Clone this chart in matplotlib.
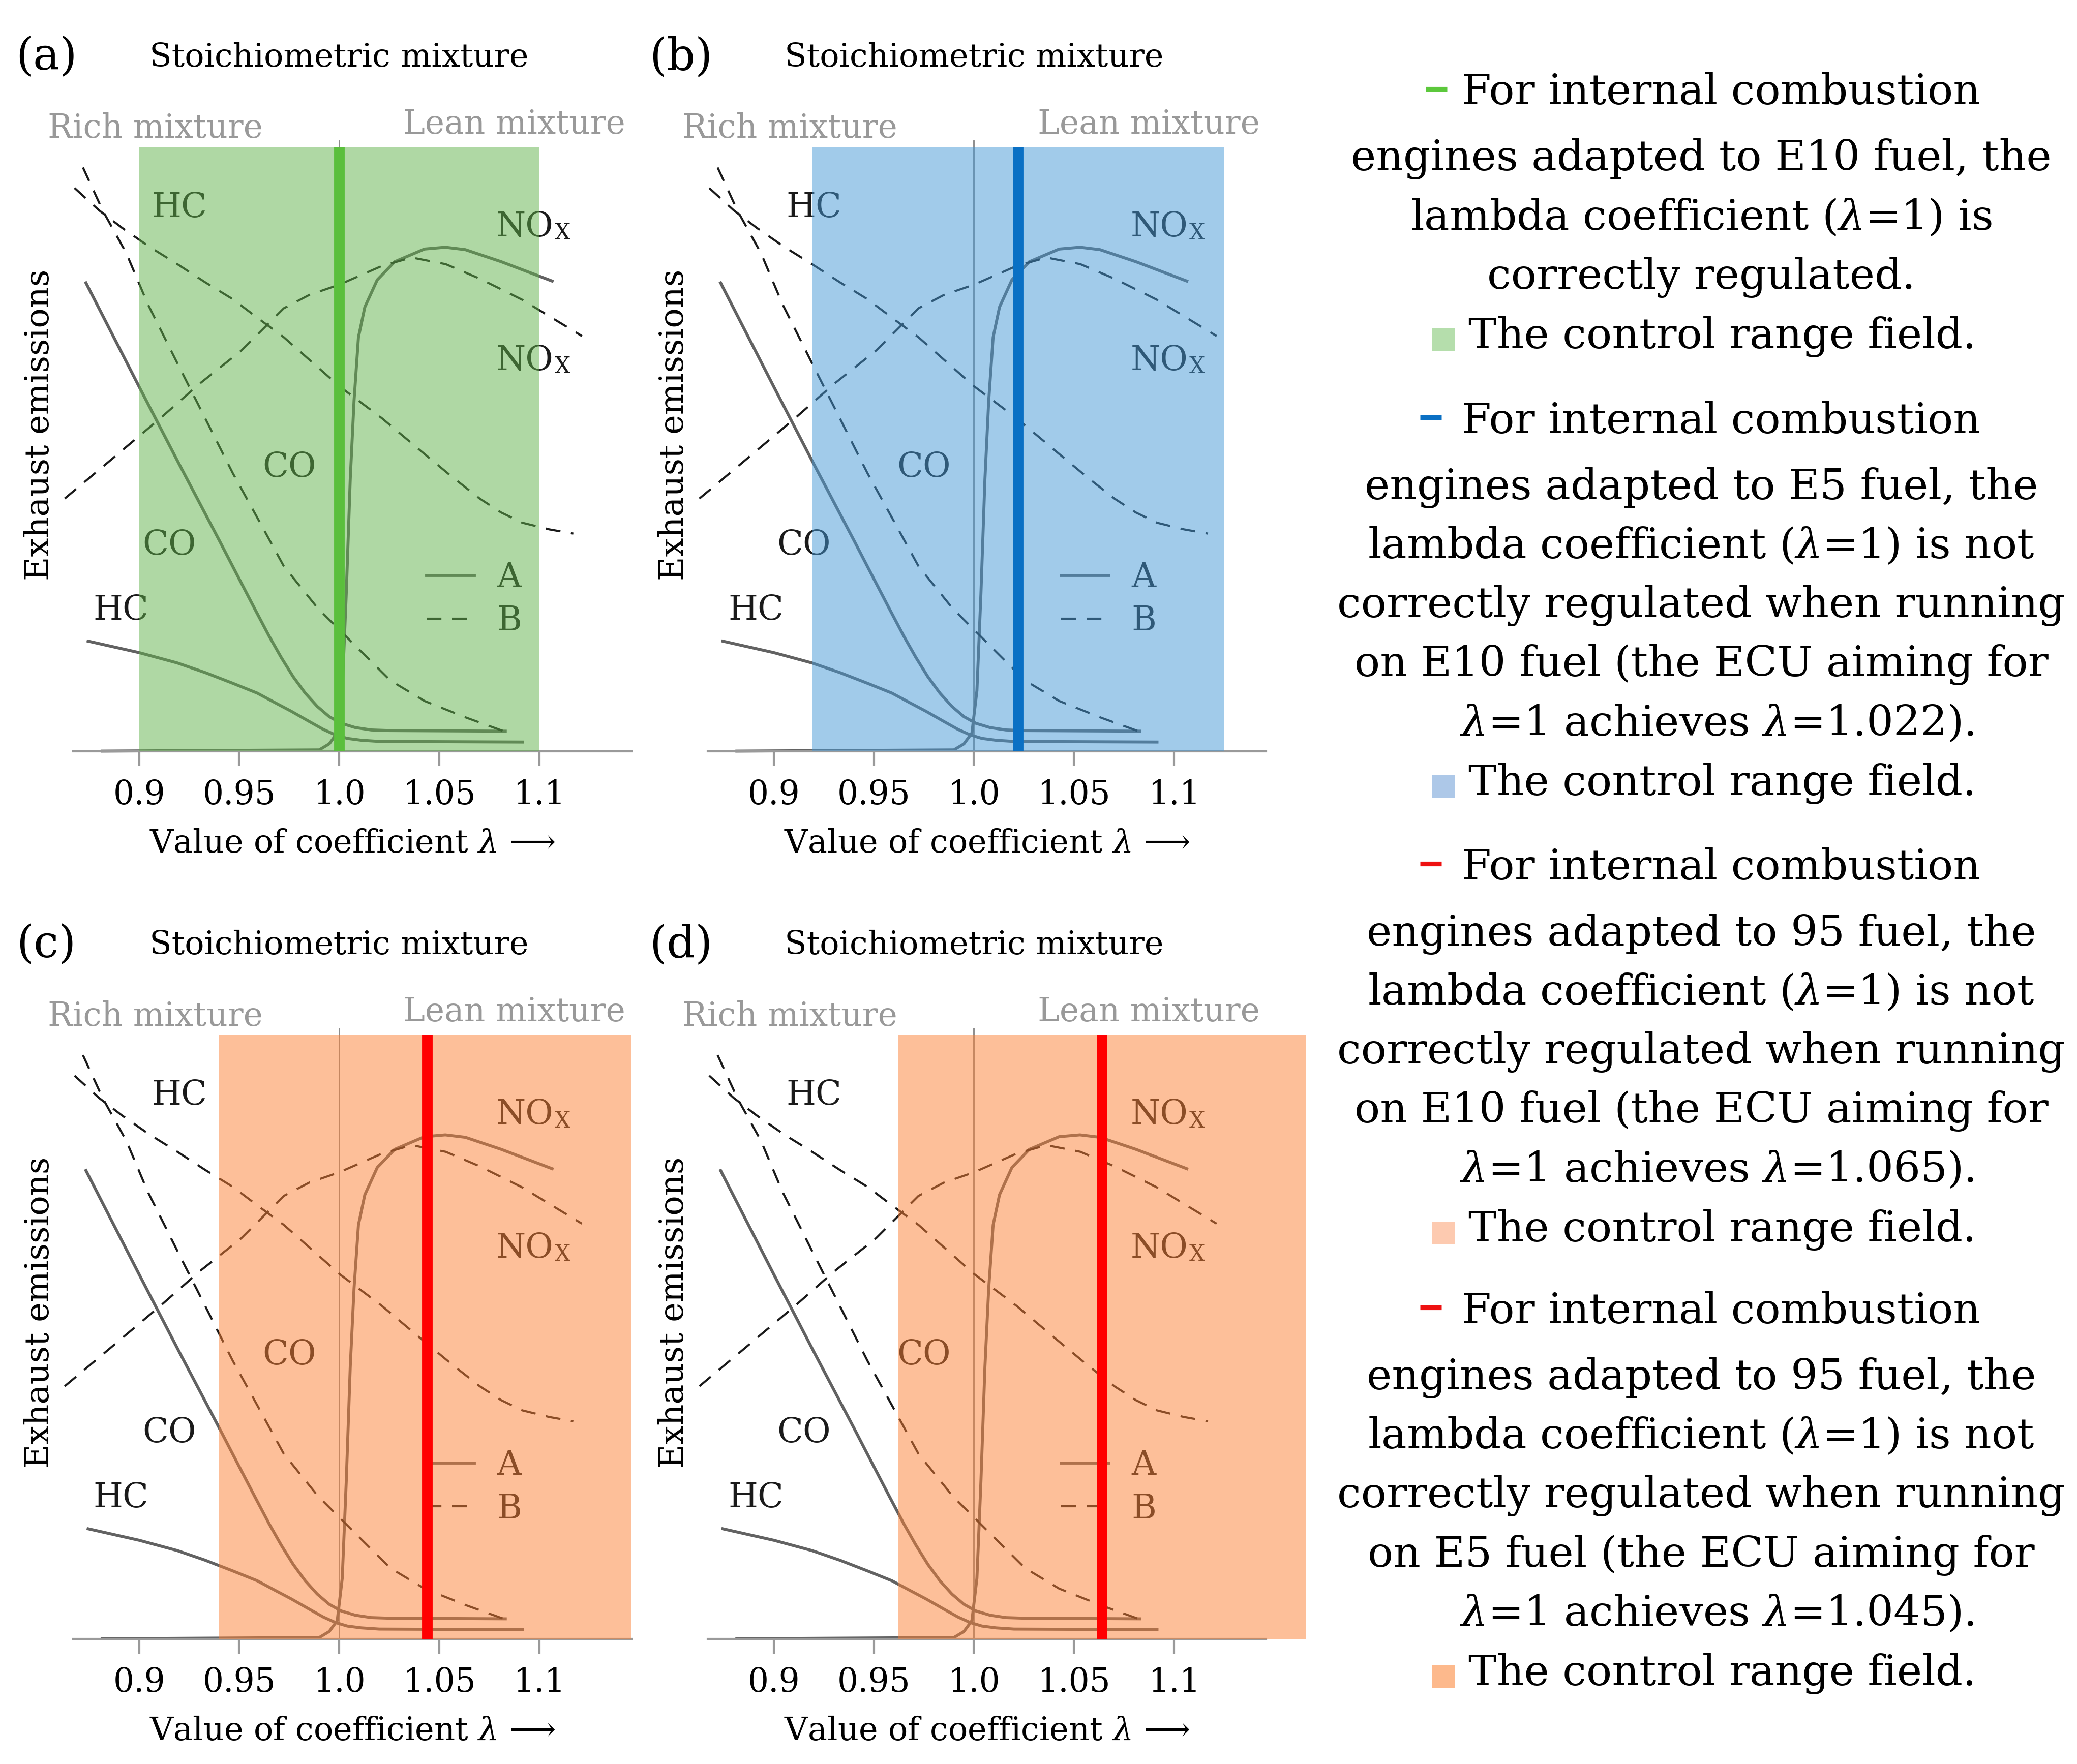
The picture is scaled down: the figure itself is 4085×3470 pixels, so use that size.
import matplotlib.pyplot as plt
from matplotlib.lines import Line2D
from matplotlib.patches import Rectangle

plt.rcParams['font.family'] = ['DejaVu Serif', 'DejaVu Sans']
plt.rcParams['mathtext.fontset'] = 'dejavuserif'

# ---- curve A (solid) ----
co_a_lam = [0.8734, 0.900, 0.920, 0.940, 0.950, 0.958, 0.965, 0.971, 0.977, 0.983, 0.989, 0.995, 1.001, 1.008,
            1.016, 1.025, 1.083]
co_a = [77.5, 60.3, 47.5, 34.9, 28.5, 23.4, 19.0, 15.5, 12.3, 9.6, 7.4, 5.7, 4.6, 3.9, 3.5, 3.4, 3.3]
hc_a_lam = [0.8745, 0.900, 0.919, 0.933, 0.947, 0.959, 0.968, 0.976, 0.985, 0.992, 0.998, 1.004, 1.011, 1.020, 1.0915]
hc_a = [18.2, 16.3, 14.6, 13.0, 11.2, 9.6, 8.0, 6.6, 4.9, 3.6, 2.7, 2.1, 1.8, 1.6, 1.5]
nox_a_lam = [0.8815, 0.990, 0.995, 0.999, 1.0015, 1.0035, 1.0055, 1.0074, 1.0096, 1.0128, 1.019, 1.0277,
             1.0426, 1.053, 1.063, 1.081, 1.1064]
nox_a = [0.0, 0.2, 1.2, 3.0, 10.0, 26.0, 45.0, 58.0, 68.5, 73.5, 78.0, 81.0, 83.1, 83.4, 83.0, 81.0, 77.8]

# ---- curve B (dashed) ----
co_b_lam = [0.8719, 0.8819, 0.8936, 0.9043, 0.9191, 0.9319, 0.9468, 0.9596, 0.9723, 0.9894, 1.0, 1.0106,
            1.0255, 1.0426, 1.0638, 1.083]
co_b = [96.6, 89.4, 82.4, 74.0, 64.2, 55.8, 46.0, 38.3, 30.6, 23.6, 20.1, 16.6, 11.7, 8.3, 5.5, 3.2]
hc_b_lam = [0.8677, 0.880, 0.8915, 0.905, 0.9191, 0.933, 0.9468, 0.960, 0.9723, 0.986, 1.0, 1.0213, 1.040,
            1.056, 1.0702, 1.0809, 1.0915, 1.105, 1.117]
hc_b = [93.2, 89.5, 86.6, 83.5, 80.6, 77.6, 74.8, 71.5, 68.5, 64.5, 60.4, 55.1, 49.9, 45.5, 41.8, 39.5, 37.8,
        36.7, 36.0]
nox_b_lam = [0.8628, 0.883, 0.9106, 0.9298, 0.9511, 0.9723, 0.985, 1.0, 1.0213, 1.0362, 1.0532, 1.0702,
             1.0915, 1.1213]
nox_b = [41.8, 47.4, 55.1, 60.7, 66.3, 73.3, 75.5, 77.2, 80.3, 81.7, 80.6, 78.2, 74.7, 68.7]

# ---- panels ----
panel_tags = ['(a)', '(b)', '(c)', '(d)']
lam_achieved = [1.0, 1.022, 1.044, 1.064]
range_lo = [0.900, 0.919, 0.940, 0.962]
range_hi = [1.100, 1.125, 1.146, 1.166]
range_colors = ['#61b24b', '#4599d7', '#fd8135', '#fd8135']
lam_colors = ['#5abf3c', '#0a70c4', '#ff0000', '#ff0000']

xticks = [0.9, 0.95, 1.0, 1.05, 1.1]
xtick_labels = ['0.9', '0.95', '1.0', '1.05', '1.1']

# ---- notes on the right ----
note_lines = [
    ['For internal combustion', 'engines adapted to E10 fuel, the',
     'lambda coefficient ($\\lambda$=1) is', 'correctly regulated.'],
    ['For internal combustion', 'engines adapted to E5 fuel, the',
     'lambda coefficient ($\\lambda$=1) is not', 'correctly regulated when running',
     'on E10 fuel (the ECU aiming for', '$\\lambda$=1 achieves $\\lambda$=1.022).'],
    ['For internal combustion', 'engines adapted to 95 fuel, the',
     'lambda coefficient ($\\lambda$=1) is not', 'correctly regulated when running',
     'on E10 fuel (the ECU aiming for', '$\\lambda$=1 achieves $\\lambda$=1.065).'],
    ['For internal combustion', 'engines adapted to 95 fuel, the',
     'lambda coefficient ($\\lambda$=1) is not', 'correctly regulated when running',
     'on E5 fuel (the ECU aiming for', '$\\lambda$=1 achieves $\\lambda$=1.045).'],
]
range_text = 'The control range field.'
note_dash_colors = ['#5cc83c', '#0a70c4', '#ee1111', '#ee1111']
note_square_colors = ['#b5deac', '#adc8e8', '#fdcab0', '#fdb98c']

W, H = 1568.0, 1331.5


def fx(x):
    return x / W


def fy(y):
    return 1 - y / H


fig = plt.figure(figsize=(4086 / 300, 3470 / 300), dpi=300)

lefts = [0.0352, 0.3407, 0.0352, 0.3407]
bottoms = [0.5742, 0.5742, 0.0710, 0.0710]
txt_col = '#1a1a1a'

for k in range(4):
    ax = fig.add_axes([lefts[k], bottoms[k], 0.2687, 0.3425])
    ax.set_xlim(0.867, 1.146)
    ax.set_ylim(0, 100)
    for s in ['left', 'right', 'top']:
        ax.spines[s].set_visible(False)
    ax.spines['bottom'].set_color('#9a9a9a')
    ax.spines['bottom'].set_linewidth(1.0)
    ax.set_yticks([])
    ax.set_xticks(xticks, xtick_labels)
    ax.tick_params(axis='x', colors='#9a9a9a', labelcolor='black', length=7, width=1.0,
                   labelsize=15.5, pad=6)
    ax.set_xlabel('Value of coefficient $\\lambda$ \u27f6', fontsize=15.3, labelpad=8)
    ax.patch.set_visible(False)

    ax.plot([1.0, 1.0], [0, 101], color='#8c8c8c', lw=0.7, clip_on=False, zorder=1)

    la, = ax.plot(co_a_lam, co_a, color='#626262', lw=1.4, zorder=2)
    ax.plot(hc_a_lam, hc_a, color='#626262', lw=1.4, zorder=2)
    ax.plot(nox_a_lam, nox_a, color='#626262', lw=1.4, zorder=2, clip_on=False)
    lb, = ax.plot(co_b_lam, co_b, color=txt_col, lw=1.0, ls=(0, (7, 5)), zorder=2)
    ax.plot(hc_b_lam, hc_b, color=txt_col, lw=1.0, ls=(0, (7, 5)), zorder=2)
    ax.plot(nox_b_lam, nox_b, color=txt_col, lw=1.0, ls=(0, (7, 5)), zorder=2, clip_on=False)

    leg = ax.legend([la, lb], ['A', 'B'], loc='center left', bbox_to_anchor=(0.633, 0.251),
                    frameon=False, fontsize=16, handlelength=1.41, handletextpad=0.67,
                    labelspacing=0.3, borderpad=0, borderaxespad=0)
    leg.set_zorder(3)
    for t in leg.get_texts():
        t.set_color(txt_col)

    lab = dict(fontsize=16, color=txt_col, ha='center', va='center', zorder=3)
    ax.text(0.920, 90.0, 'HC', **lab)
    ax.text(0.975, 47.0, 'CO', **lab)
    ax.text(0.915, 34.1, 'CO', **lab)
    ax.text(0.891, 23.3, 'HC', **lab)
    for yb in [85.2, 63.1]:
        t_no = ax.text(1.0783, yb, 'NO', fontsize=16, color=txt_col, ha='left', va='baseline', zorder=3)
        ax.annotate('X', xy=(1, 0), xycoords=t_no, xytext=(0.5, 1.8), textcoords='offset points',
                    fontsize=10.5, color=txt_col, ha='left', va='baseline', zorder=3)

    ax.text(0.908, 103.0, 'Rich mixture', fontsize=15.5, color='#999999', ha='center', va='center')
    ax.text(1.0874, 103.7, 'Lean mixture', fontsize=15.5, color='#999999', ha='center', va='center')
    ax.text(1.0, 114.8, 'Stoichiometric mixture', fontsize=15.3, color='black', ha='center', va='center')
    ax.text(0.8536, 114.8, panel_tags[k], fontsize=21, color='black', ha='center', va='center')
    ax.text(0.8503, 54.0, 'Exhaust emissions', fontsize=15.7, color='black', rotation=90,
            ha='center', va='center')

    span = ax.axvspan(range_lo[k], range_hi[k], ymin=0, ymax=1, facecolor=range_colors[k], alpha=0.5,
                      lw=0, zorder=5)
    span.set_clip_on(False)
    ax.axvline(lam_achieved[k], ymin=0, ymax=1, color=lam_colors[k], lw=5, zorder=6)

# notes
note_top = [70, 318, 655, 990]
for k, block in enumerate(note_lines):
    y0 = note_top[k]
    ys = [y0] + [y0 + 50 + 44.6 * i for i in range(len(block) - 1)]
    yr = ys[-1] + 45
    for i, (line, y) in enumerate(zip(block, ys)):
        if i == 0:
            xc = 1299
        elif i == len(block) - 1 and k > 0:
            xc = 1296
        else:
            xc = 1284
        fig.text(fx(xc), fy(y), line, fontsize=20, ha='center', va='center', color='black')
    fig.text(fx(1300), fy(yr), range_text, fontsize=20, ha='center', va='center', color='black')
    d0 = 1076 if k == 0 else 1072
    fig.add_artist(Line2D([fx(d0), fx(d0 + 16)], [fy(y0 - 3)] * 2, transform=fig.transFigure,
                          color=note_dash_colors[k], lw=2.2, solid_capstyle='butt'))
    sw, sh = 17 / W, 17 / H
    fig.add_artist(Rectangle((fx(1081), fy(yr + 2) - sh / 2), sw, sh, transform=fig.transFigure,
                             facecolor=note_square_colors[k], edgecolor='none'))

fig.savefig('out.png', dpi=300)
